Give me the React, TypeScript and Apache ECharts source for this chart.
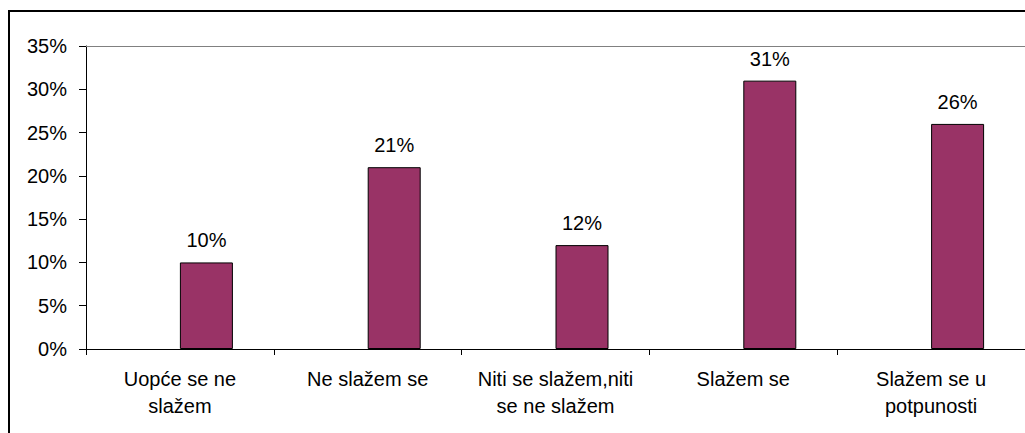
import React, { useEffect, useRef } from "react";
import * as echarts from "echarts";

const categories = [
  "Uopće se ne\nslažem",
  "Ne slažem se",
  "Niti se slažem,niti\nse ne slažem",
  "Slažem se",
  "Slažem se u\npotpunosti",
];
const values = [10, 21, 12, 31, 26];
const emptySeries = [null, null, null, null, null];
const yMax = 35;

const FONT = "'Liberation Sans', Arial, sans-serif";

export default function App() {
  const ref = useRef<HTMLDivElement>(null);
  useEffect(() => {
    if (!ref.current) return;
    const chart = echarts.init(ref.current, undefined, { renderer: "svg" });
    chart.setOption({
      animation: false,
      backgroundColor: "#ffffff",
      textStyle: { fontFamily: FONT },
      graphic: [
        {
          type: "line",
          shape: { x1: 8, y1: 11, x2: 1030, y2: 11 },
          style: { stroke: "#000", lineWidth: 2 },
          z: 100,
        },
        {
          type: "line",
          shape: { x1: 9, y1: 10, x2: 9, y2: 440 },
          style: { stroke: "#000", lineWidth: 2 },
          z: 100,
        },
      ],
      grid: { left: 86, top: 46, right: 0, bottom: 84, containLabel: false },
      xAxis: {
        type: "category",
        data: categories,
        boundaryGap: true,
        axisLine: { lineStyle: { color: "#000", width: 1 } },
        axisTick: { show: true, length: 6, lineStyle: { color: "#000" } },
        axisLabel: {
          color: "#000",
          fontSize: 20,
          lineHeight: 27,
          margin: 16,
          fontFamily: FONT,
          interval: 0,
        },
      },
      yAxis: {
        type: "value",
        min: 0,
        max: yMax,
        interval: 5,
        axisLine: { show: true, lineStyle: { color: "#000", width: 1 } },
        axisTick: { show: true, length: 7, lineStyle: { color: "#000" } },
        axisLabel: {
          color: "#000",
          fontSize: 20,
          margin: 19,
          fontFamily: FONT,
          formatter: "{value}%",
        },
        splitLine: { show: false },
      },
      series: [
        {
          type: "bar",
          data: emptySeries,
          barWidth: 53,
          barGap: "0%",
          markLine: {
            silent: true,
            symbol: "none",
            label: { show: false },
            lineStyle: { color: "#808080", width: 1, type: "solid" },
            data: [{ yAxis: yMax }],
          },
        },
        {
          type: "bar",
          data: values,
          barWidth: 53,
          barGap: "0%",
          itemStyle: { color: "#993366", borderColor: "#000", borderWidth: 1 },
          label: {
            show: true,
            position: "top",
            distance: 12,
            color: "#000",
            fontSize: 20,
            fontFamily: FONT,
            formatter: "{c}%",
          },
        },
      ],
    });
    return () => chart.dispose();
  }, []);
  return (
    <div
      ref={ref}
      style={{ position: "fixed", left: 0, top: 0, width: 1025, height: 433, overflow: "hidden" }}
    />
  );
}
